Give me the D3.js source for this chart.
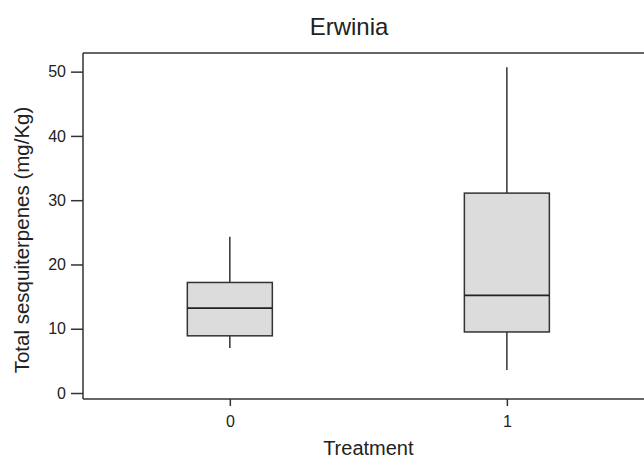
<!DOCTYPE html>
<html>
<head>
<meta charset="utf-8">
<script src="https://cdn.jsdelivr.net/npm/d3@7"></script>
<style>
  body { margin: 0; background: #fff; }
  text { font-family: "Liberation Sans", Arial, sans-serif; fill: #222; }
</style>
</head>
<body>
<div id="wrapper"></div>
<script>
const treatments = [0, 1]
const whiskerLow = [7.0, 3.6]
const q1 = [8.9, 9.5]
const median = [13.2, 15.2]
const q3 = [17.2, 31.1]
const whiskerHigh = [24.3, 50.7]
const yTicks = [0, 10, 20, 30, 40, 50]

const data = treatments.map((t, i) => ({
    treatment: t,
    low: whiskerLow[i],
    q1: q1[i],
    median: median[i],
    q3: q3[i],
    high: whiskerHigh[i],
}))

const dimensions = {
    width: 644,
    height: 460,
    margin: { top: 53, right: 0, bottom: 61, left: 83 },
}
dimensions.boundedWidth = dimensions.width - dimensions.margin.left - dimensions.margin.right
dimensions.boundedHeight = dimensions.height - dimensions.margin.top - dimensions.margin.bottom

const wrapper = d3.select("#wrapper")
    .append("svg")
    .attr("width", dimensions.width)
    .attr("height", dimensions.height)

const bounds = wrapper.append("g")
    .attr("transform", `translate(${dimensions.margin.left},${dimensions.margin.top})`)

const xScale = d3.scaleLinear()
    .domain([-0.53, 1.495])
    .range([0, dimensions.boundedWidth])

// 0 sits a little above the bottom axis line
const yScale = d3.scaleLinear()
    .domain([-0.93, 52.9])
    .range([dimensions.boundedHeight, 0])

const lineColor = "#333"
const boxWidth = 85

// frame: left, bottom, top
bounds.append("line")
    .attr("x1", 0).attr("x2", 0)
    .attr("y1", 0).attr("y2", dimensions.boundedHeight)
    .attr("stroke", lineColor).attr("stroke-width", 1.5)
bounds.append("line")
    .attr("x1", 0).attr("x2", dimensions.boundedWidth)
    .attr("y1", dimensions.boundedHeight).attr("y2", dimensions.boundedHeight)
    .attr("stroke", lineColor).attr("stroke-width", 1.5)
bounds.append("line")
    .attr("x1", 0).attr("x2", dimensions.boundedWidth)
    .attr("y1", 0).attr("y2", 0)
    .attr("stroke", lineColor).attr("stroke-width", 1.5)

// axes
const yAxis = bounds.append("g")
    .attr("font-size", 16)
    .call(d3.axisLeft(yScale).tickValues(yTicks).tickSize(12).tickPadding(5))
yAxis.attr("font-size", 16).attr("font-family", null)
yAxis.select(".domain").remove()
yAxis.selectAll(".tick line").attr("stroke", lineColor).attr("stroke-width", 1.5)
yAxis.selectAll(".tick text").style("font-size", "16px").attr("fill", "#222")

const xAxis = bounds.append("g")
    .attr("transform", `translate(0,${dimensions.boundedHeight})`)
    .call(d3.axisBottom(xScale).tickValues(treatments).tickFormat(d3.format("d")).tickSize(7).tickPadding(10))
xAxis.attr("font-size", 16).attr("font-family", null)
xAxis.select(".domain").remove()
xAxis.selectAll(".tick line").attr("stroke", lineColor).attr("stroke-width", 1.5)
xAxis.selectAll(".tick text").style("font-size", "16px").attr("fill", "#222")

// boxes
const boxes = bounds.selectAll(".box")
    .data(data)
    .join("g")
    .attr("class", "box")

boxes.append("line")
    .attr("x1", d => xScale(d.treatment)).attr("x2", d => xScale(d.treatment))
    .attr("y1", d => yScale(d.high)).attr("y2", d => yScale(d.q3))
    .attr("stroke", lineColor).attr("stroke-width", 1.5)
boxes.append("line")
    .attr("x1", d => xScale(d.treatment)).attr("x2", d => xScale(d.treatment))
    .attr("y1", d => yScale(d.q1)).attr("y2", d => yScale(d.low))
    .attr("stroke", lineColor).attr("stroke-width", 1.5)
boxes.append("rect")
    .attr("x", d => xScale(d.treatment) - boxWidth / 2)
    .attr("width", boxWidth)
    .attr("y", d => yScale(d.q3))
    .attr("height", d => yScale(d.q1) - yScale(d.q3))
    .attr("fill", "#dcdcdc")
    .attr("stroke", lineColor).attr("stroke-width", 1.5)
boxes.append("line")
    .attr("x1", d => xScale(d.treatment) - boxWidth / 2)
    .attr("x2", d => xScale(d.treatment) + boxWidth / 2)
    .attr("y1", d => yScale(d.median)).attr("y2", d => yScale(d.median))
    .attr("stroke", "#222").attr("stroke-width", 1.8)

// labels
wrapper.append("text")
    .attr("x", 349).attr("y", 35)
    .attr("text-anchor", "middle")
    .style("font-size", "24px")
    .text("Erwinia")

wrapper.append("text")
    .attr("x", dimensions.margin.left + xScale(0.5)).attr("y", 455)
    .attr("text-anchor", "middle")
    .style("font-size", "20px")
    .text("Treatment")

wrapper.append("text")
    .attr("transform", "translate(29,240) rotate(-90)")
    .attr("text-anchor", "middle")
    .style("font-size", "20.5px")
    .text("Total sesquiterpenes (mg/Kg)")
</script>
</body>
</html>
